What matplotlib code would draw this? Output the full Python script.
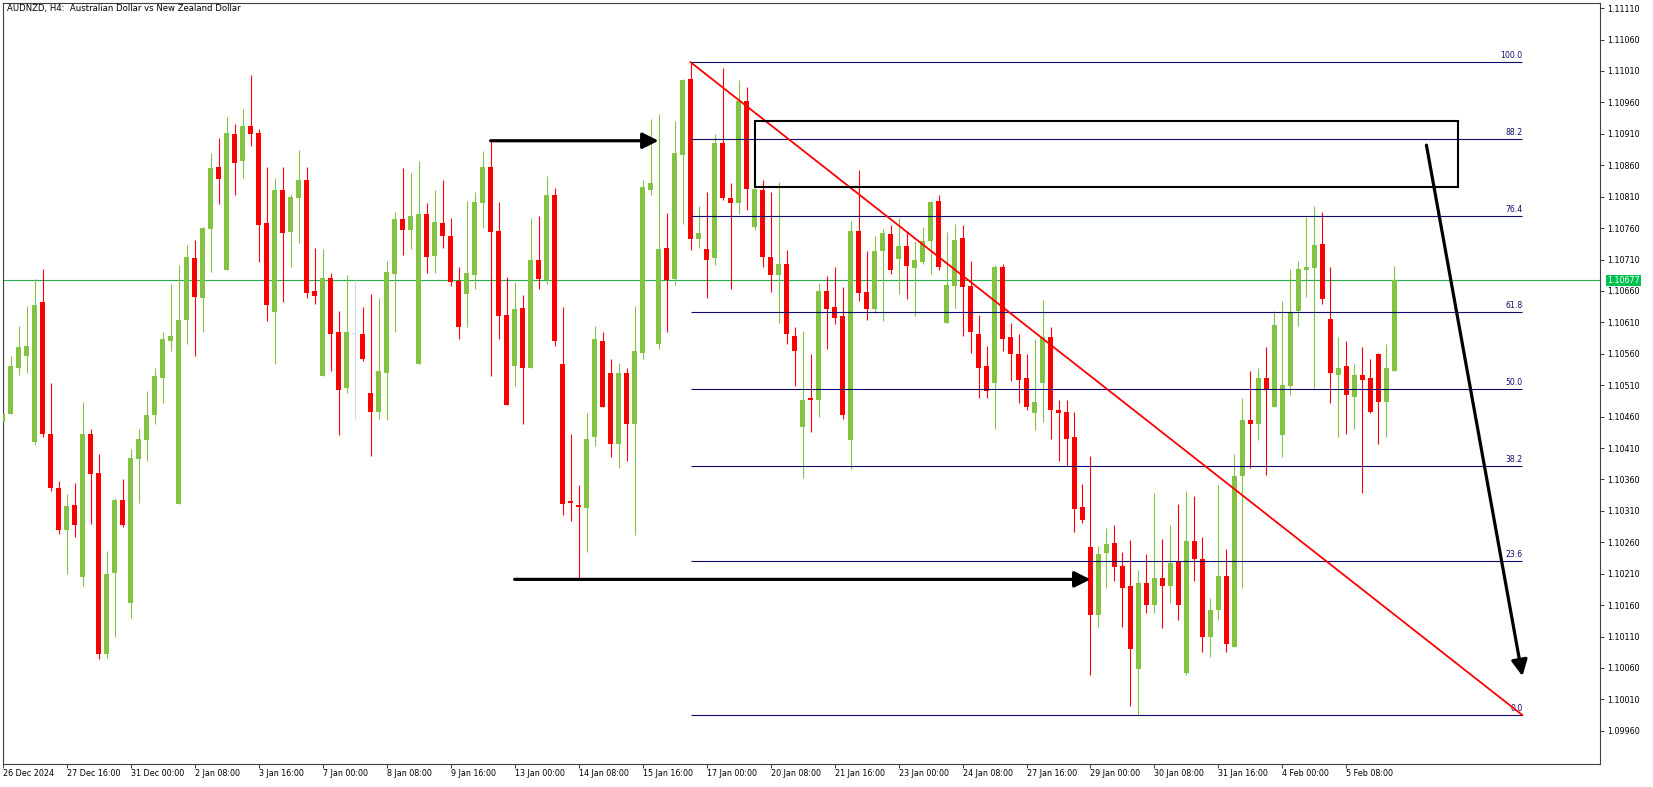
import numpy as np
import matplotlib.pyplot as plt
from matplotlib.patches import Rectangle

# AUDNZD H4 candles (bar 0 = 26 Dec 08:00)
opens = [1.10451, 1.10464, 1.10538, 1.10557, 1.10419, 1.10642, 1.10433, 1.10347, 1.10279, 1.10319,
         1.10204, 1.10433, 1.10370, 1.10082, 1.10211, 1.10327, 1.10163, 1.10393, 1.10422, 1.10462,
         1.10522, 1.10580, 1.10321, 1.10614, 1.10712, 1.10648, 1.10758, 1.10858, 1.10693, 1.10910,
         1.10866, 1.10922, 1.10912, 1.10768, 1.10626, 1.10820, 1.10754, 1.10808, 1.10836, 1.10660,
         1.10525, 1.10681, 1.10594, 1.10506, 1.10592, 1.10592, 1.10497, 1.10467, 1.10530, 1.10687,
         1.10774, 1.10757, 1.10544, 1.10782, 1.10715, 1.10768, 1.10747, 1.10676, 1.10655, 1.10685,
         1.10800, 1.10858, 1.10755, 1.10622, 1.10540, 1.10633, 1.10537, 1.10709, 1.10677, 1.10812,
         1.10543, 1.10325, 1.10320, 1.10315, 1.10427, 1.10581, 1.10530, 1.10416, 1.10530, 1.10449,
         1.10562, 1.10820, 1.10576, 1.10728, 1.10679, 1.10877, 1.10998, 1.10743, 1.10727, 1.10712,
         1.10896, 1.10808, 1.10800, 1.10962, 1.10762, 1.10821, 1.10714, 1.10685, 1.10703, 1.10589,
         1.10443, 1.10489, 1.10486, 1.10660, 1.10634, 1.10620, 1.10422, 1.10755, 1.10658, 1.10631,
         1.10723, 1.10750, 1.10711, 1.10731, 1.10696, 1.10706, 1.10739, 1.10803, 1.10609, 1.10668,
         1.10744, 1.10668, 1.10591, 1.10541, 1.10514, 1.10698, 1.10586, 1.10559, 1.10521, 1.10465,
         1.10514, 1.10586, 1.10471, 1.10467, 1.10427, 1.10316, 1.10253, 1.10144, 1.10243, 1.10259,
         1.10222, 1.10190, 1.10059, 1.10195, 1.10160, 1.10203, 1.10191, 1.10230, 1.10052, 1.10262,
         1.10234, 1.10109, 1.10152, 1.10206, 1.10094, 1.10366, 1.10455, 1.10449, 1.10522, 1.10476,
         1.10430, 1.10508, 1.10628, 1.10693, 1.10696, 1.10735, 1.10615, 1.10527, 1.10540, 1.10492,
         1.10527, 1.10522, 1.10560, 1.10484, 1.10533]
highs = [1.10490, 1.10557, 1.10604, 1.10636, 1.10679, 1.10695, 1.10513, 1.10358, 1.10337, 1.10354,
         1.10483, 1.10440, 1.10401, 1.10246, 1.10331, 1.10361, 1.10408, 1.10441, 1.10500, 1.10537,
         1.10595, 1.10671, 1.10701, 1.10733, 1.10741, 1.10762, 1.10879, 1.10904, 1.10937, 1.10925,
         1.10950, 1.11004, 1.10917, 1.10858, 1.10839, 1.10858, 1.10815, 1.10884, 1.10858, 1.10728,
         1.10727, 1.10689, 1.10628, 1.10685, 1.10677, 1.10634, 1.10655, 1.10649, 1.10708, 1.10786,
         1.10855, 1.10847, 1.10866, 1.10800, 1.10821, 1.10836, 1.10776, 1.10698, 1.10803, 1.10817,
         1.10882, 1.10899, 1.10801, 1.10682, 1.10674, 1.10653, 1.10776, 1.10779, 1.10843, 1.10824,
         1.10634, 1.10432, 1.10351, 1.10465, 1.10605, 1.10594, 1.10551, 1.10546, 1.10537, 1.10636,
         1.10837, 1.10933, 1.10941, 1.10784, 1.10931, 1.10997, 1.11024, 1.10795, 1.10817, 1.10909,
         1.11015, 1.10832, 1.10995, 1.10985, 1.10824, 1.10836, 1.10818, 1.10834, 1.10725, 1.10603,
         1.10597, 1.10560, 1.10673, 1.10684, 1.10698, 1.10666, 1.10771, 1.10853, 1.10723, 1.10747,
         1.10758, 1.10765, 1.10776, 1.10755, 1.10739, 1.10762, 1.10803, 1.10813, 1.10754, 1.10766,
         1.10765, 1.10708, 1.10622, 1.10572, 1.10701, 1.10703, 1.10609, 1.10592, 1.10559, 1.10584,
         1.10646, 1.10603, 1.10486, 1.10486, 1.10467, 1.10353, 1.10398, 1.10254, 1.10283, 1.10288,
         1.10245, 1.10264, 1.10216, 1.10241, 1.10338, 1.10265, 1.10288, 1.10321, 1.10342, 1.10334,
         1.10269, 1.10171, 1.10351, 1.10249, 1.10401, 1.10489, 1.10533, 1.10538, 1.10570, 1.10628,
         1.10644, 1.10695, 1.10708, 1.10777, 1.10795, 1.10786, 1.10698, 1.10586, 1.10580, 1.10543,
         1.10570, 1.10551, 1.10562, 1.10575, 1.10700]
lows = [1.10447, 1.10464, 1.10526, 1.10530, 1.10415, 1.10428, 1.10341, 1.10273, 1.10210, 1.10268,
        1.10191, 1.10289, 1.10075, 1.10076, 1.10110, 1.10284, 1.10139, 1.10323, 1.10389, 1.10449,
        1.10481, 1.10565, 1.10321, 1.10575, 1.10557, 1.10595, 1.10690, 1.10798, 1.10693, 1.10813,
        1.10839, 1.10891, 1.10706, 1.10612, 1.10543, 1.10642, 1.10698, 1.10736, 1.10649, 1.10639,
        1.10525, 1.10533, 1.10430, 1.10498, 1.10455, 1.10549, 1.10397, 1.10457, 1.10455, 1.10594,
        1.10717, 1.10727, 1.10544, 1.10689, 1.10689, 1.10728, 1.10668, 1.10583, 1.10602, 1.10663,
        1.10760, 1.10524, 1.10584, 1.10478, 1.10508, 1.10449, 1.10537, 1.10663, 1.10671, 1.10572,
        1.10303, 1.10294, 1.10202, 1.10245, 1.10413, 1.10476, 1.10395, 1.10379, 1.10390, 1.10272,
        1.10551, 1.10812, 1.10568, 1.10595, 1.10669, 1.10766, 1.10725, 1.10728, 1.10649, 1.10701,
        1.10805, 1.10663, 1.10782, 1.10789, 1.10757, 1.10698, 1.10658, 1.10609, 1.10576, 1.10508,
        1.10363, 1.10436, 1.10460, 1.10568, 1.10607, 1.10457, 1.10376, 1.10644, 1.10614, 1.10625,
        1.10612, 1.10687, 1.10655, 1.10647, 1.10620, 1.10703, 1.10687, 1.10693, 1.10609, 1.10633,
        1.10588, 1.10562, 1.10489, 1.10489, 1.10441, 1.10565, 1.10516, 1.10481, 1.10470, 1.10438,
        1.10451, 1.10425, 1.10389, 1.10381, 1.10277, 1.10291, 1.10049, 1.10126, 1.10187, 1.10198,
        1.10126, 1.10000, 1.09985, 1.10148, 1.10148, 1.10123, 1.10164, 1.10136, 1.10049, 1.10198,
        1.10085, 1.10078, 1.10137, 1.10085, 1.10094, 1.10188, 1.10379, 1.10422, 1.10367, 1.10476,
        1.10395, 1.10495, 1.10604, 1.10650, 1.10506, 1.10639, 1.10481, 1.10427, 1.10433, 1.10441,
        1.10338, 1.10465, 1.10416, 1.10427, 1.10533]
closes = [1.10464, 1.10540, 1.10570, 1.10573, 1.10638, 1.10432, 1.10346, 1.10279, 1.10318, 1.10287,
          1.10433, 1.10368, 1.10082, 1.10210, 1.10327, 1.10288, 1.10394, 1.10424, 1.10463, 1.10524,
          1.10583, 1.10589, 1.10614, 1.10714, 1.10650, 1.10760, 1.10856, 1.10838, 1.10912, 1.10864,
          1.10923, 1.10910, 1.10765, 1.10638, 1.10820, 1.10752, 1.10809, 1.10836, 1.10657, 1.10652,
          1.10681, 1.10591, 1.10502, 1.10594, 1.10592, 1.10551, 1.10467, 1.10532, 1.10690, 1.10774,
          1.10757, 1.10779, 1.10782, 1.10714, 1.10770, 1.10747, 1.10674, 1.10603, 1.10689, 1.10801,
          1.10858, 1.10754, 1.10620, 1.10479, 1.10631, 1.10538, 1.10709, 1.10679, 1.10812, 1.10581,
          1.10321, 1.10322, 1.10316, 1.10425, 1.10584, 1.10476, 1.10416, 1.10529, 1.10448, 1.10565,
          1.10826, 1.10831, 1.10727, 1.10677, 1.10879, 1.10996, 1.10743, 1.10752, 1.10709, 1.10896,
          1.10808, 1.10800, 1.10962, 1.10823, 1.10823, 1.10714, 1.10685, 1.10703, 1.10592, 1.10565,
          1.10486, 1.10486, 1.10660, 1.10631, 1.10617, 1.10462, 1.10755, 1.10657, 1.10631, 1.10723,
          1.10752, 1.10693, 1.10731, 1.10700, 1.10709, 1.10739, 1.10801, 1.10698, 1.10669, 1.10741,
          1.10666, 1.10594, 1.10538, 1.10500, 1.10698, 1.10584, 1.10560, 1.10519, 1.10475, 1.10484,
          1.10586, 1.10470, 1.10465, 1.10425, 1.10313, 1.10296, 1.10144, 1.10241, 1.10257, 1.10221,
          1.10187, 1.10091, 1.10196, 1.10160, 1.10203, 1.10191, 1.10227, 1.10161, 1.10262, 1.10234,
          1.10109, 1.10153, 1.10206, 1.10098, 1.10366, 1.10455, 1.10449, 1.10522, 1.10502, 1.10606,
          1.10510, 1.10625, 1.10695, 1.10698, 1.10733, 1.10647, 1.10529, 1.10538, 1.10494, 1.10527,
          1.10518, 1.10468, 1.10484, 1.10538, 1.10677]

tick_bars = list(range(0, 169, 8))
tick_labels = ["26 Dec 2024", "27 Dec 16:00", "31 Dec 00:00", "2 Jan 08:00", "3 Jan 16:00",
               "7 Jan 00:00", "8 Jan 08:00", "9 Jan 16:00", "13 Jan 00:00", "14 Jan 08:00",
               "15 Jan 16:00", "17 Jan 00:00", "20 Jan 08:00", "21 Jan 16:00", "23 Jan 00:00",
               "24 Jan 08:00", "27 Jan 16:00", "29 Jan 00:00", "30 Jan 08:00", "31 Jan 16:00",
               "4 Feb 00:00", "5 Feb 08:00"]
fib_levels = [0.0, 23.6, 38.2, 50.0, 61.8, 76.4, 88.2, 100.0]

# drawings on the chart (bar index, price)
zone_bars = (94, 182)
zone_prices = (1.10826, 1.10931)
arrow_top = ((61, 1.10899), (82, 1.10899))
arrow_bottom = ((64, 1.10201), (136, 1.10201))
arrow_down = ((178, 1.10892), (190, 1.10047))
fib_start, fib_end = 86, 190
last_price = 1.10677

GREEN = '#84c341'
RED = '#ff0000'
NAVY = '#0c0c6e'
FS = 5.8

opens, highs, lows, closes = map(np.array, (opens, highs, lows, closes))
x = np.arange(len(opens))
colors = np.where(closes > opens, GREEN, RED).astype(object)
colors[opens == closes] = '#d5dcdf'

fig = plt.figure(figsize=(16.53, 7.87), dpi=100)
ax = fig.add_axes([2.7 / 1653, 1 - 763.5 / 787, 1597.3 / 1653, 761 / 787])

ax.vlines(x, lows, highs, colors=colors, lw=0.8, zorder=2)
bottoms = np.minimum(opens, closes)
heights = np.maximum(np.abs(closes - opens), 0.000012)
ax.bar(x, heights, bottom=bottoms, width=0.62, color=colors, linewidth=0, zorder=3)

# current price line
ax.axhline(last_price, color='#22b14c', lw=0.8, zorder=1)

# fibonacci retracement
hi, lo = highs.max(), lows.min()
for lvl in fib_levels:
    p = lo + lvl / 100 * (hi - lo)
    ax.hlines(p, fib_start, fib_end, color=NAVY, lw=0.8, zorder=4)
    ax.text(fib_end, p + 0.00003, f"{lvl:.1f}", color=NAVY, fontsize=FS - 0.2,
            ha='right', va='bottom', zorder=5)
ax.plot([fib_start, fib_end], [hi, lo], color=RED, lw=1.3, zorder=5)

# supply zone box
ax.add_patch(Rectangle((zone_bars[0], zone_prices[0]), zone_bars[1] - zone_bars[0],
                       zone_prices[1] - zone_prices[0], fill=False, ec='black', lw=1.5, zorder=6))

arrow_kw = dict(arrowstyle='-|>,head_length=0.8,head_width=0.4', color='black',
                lw=2.3, mutation_scale=12, shrinkA=0, shrinkB=0)
for start, end in (arrow_top, arrow_bottom, arrow_down):
    ax.annotate('', xy=end, xytext=start, arrowprops=arrow_kw, zorder=7)

ax.set_xlim(0.046, 199.7)
ax.set_ylim(1.09908, 1.11119)

yt = np.arange(1.09960, 1.11111, 0.0005)
ax.yaxis.tick_right()
ax.set_yticks(yt)
ax.set_yticklabels([f"{v:.5f}" for v in yt])
ax.set_xticks(tick_bars)
ax.set_xticklabels(tick_labels, ha='left')
ax.tick_params(axis='both', labelsize=FS, length=3, width=0.7, color='#404040', pad=2)
ax.tick_params(axis='x', pad=1)
for s in ax.spines.values():
    s.set_color('#404040')
    s.set_linewidth(0.8)

ax.annotate(f"{last_price:.5f}", xy=(1.0, last_price), xycoords=('axes fraction', 'data'),
            xytext=(5, 0), textcoords='offset points', fontsize=FS, color='white',
            ha='left', va='center', zorder=10,
            bbox=dict(boxstyle='square,pad=0.15', fc='#00c050', ec='none'))

fig.text(7 / 1653, 1 - 9 / 787, "AUDNZD, H4:  Australian Dollar vs New Zealand Dollar",
         fontsize=6.1, va='center', ha='left')

fig.savefig('out.png', dpi=100)
